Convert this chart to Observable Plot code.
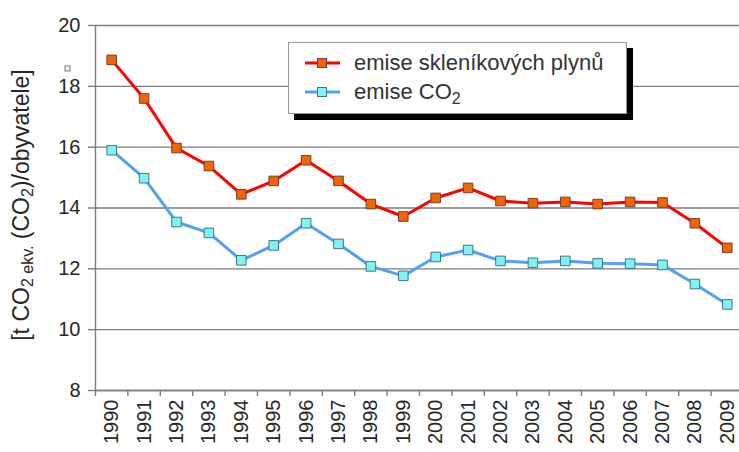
<!DOCTYPE html>
<html><head><meta charset="utf-8">
<script src="https://cdn.jsdelivr.net/npm/d3@7"></script>
<script src="https://cdn.jsdelivr.net/npm/@observablehq/plot@0.6"></script>
<style>
body{margin:0;background:#fff}
#chart{position:relative;width:739px;height:452px;overflow:hidden}
</style>
</head><body><div id="chart"></div>
<script>
const years = [1990,1991,1992,1993,1994,1995,1996,1997,1998,1999,2000,2001,2002,2003,2004,2005,2006,2007,2008,2009];
const ghg = [18.87,17.6,15.97,15.38,14.45,14.89,15.57,14.89,14.13,13.72,14.33,14.66,14.23,14.16,14.2,14.13,14.2,14.18,13.5,12.69];
const co2 = [15.9,14.98,13.54,13.18,12.28,12.77,13.5,12.82,12.08,11.77,12.39,12.62,12.26,12.2,12.26,12.18,12.17,12.13,11.5,10.83];
const yTicks = [8,10,12,14,16,18,20];
const seriesNames = ["emise skleníkových plynů", "emise CO"];

const FONT = "'Liberation Sans', Arial, sans-serif";
const C = {
  ghgLine: "#ff0000", ghgFill: "#f0640a", ghgStroke: "#7a4020",
  co2Line: "#55a0f5", co2Fill: "#80f2f2", co2Stroke: "#3a7a80",
  grid: "#7d7d7d", text: "#262626"
};

const data = years.map((y, i) => ({year: y, ghg: ghg[i], co2: co2[i]}));
const bounds = years.map(y => y - 0.5).concat([years[years.length - 1] + 0.5]);

const chart = Plot.plot({
  width: 739, height: 452,
  marginLeft: 95, marginTop: 25, marginBottom: 62, marginRight: 0,
  style: {fontFamily: FONT, fontSize: "20px", background: "#fff", color: C.text},
  x: {type: "linear", domain: [bounds[0], bounds[bounds.length - 1]], range: [95, 743]},
  y: {domain: [8, 20], range: [390, 25]},
  marks: [
    Plot.gridY(yTicks, {stroke: C.grid, strokeOpacity: 1, strokeWidth: 1.4}),
    Plot.axisY({ticks: yTicks, tickSize: 7, tickPadding: 8, stroke: C.grid, strokeWidth: 1.4, fill: C.text, label: null, fontSize: 20}),
    Plot.axisX({ticks: bounds, tickSize: 6, tickFormat: () => "", stroke: C.grid, strokeWidth: 1.4, label: null}),
    Plot.axisX({ticks: years, tickSize: 0, tickPadding: 9, tickRotate: -90, tickFormat: d => String(d), fill: C.text, label: null, fontSize: 20}),
    Plot.ruleY([8], {stroke: C.grid, strokeWidth: 1.4}),
    Plot.ruleX([bounds[0]], {stroke: C.grid, strokeWidth: 1.4}),
    Plot.line(data, {x: "year", y: "co2", stroke: C.co2Line, strokeWidth: 3}),
    Plot.dot(data, {x: "year", y: "co2", symbol: "square", r: 5.4, fill: C.co2Fill, stroke: C.co2Stroke, strokeWidth: 1}),
    Plot.line(data, {x: "year", y: "ghg", stroke: C.ghgLine, strokeWidth: 3}),
    Plot.dot(data, {x: "year", y: "ghg", symbol: "square", r: 5.4, fill: C.ghgFill, stroke: C.ghgStroke, strokeWidth: 1})
  ]
});
document.getElementById("chart").appendChild(chart);

const svg = d3.select(chart);

// Y axis title with subscripts
const t = svg.append("text")
  .attr("transform", "translate(29,205) rotate(-90)")
  .attr("text-anchor", "middle")
  .attr("font-family", FONT).attr("font-size", 23).attr("fill", C.text);
t.append("tspan").text("[t CO");
t.append("tspan").attr("font-size", 16).attr("dy", 4).text("2 ekv.");
t.append("tspan").attr("dy", -4).text(" (CO");
t.append("tspan").attr("font-size", 16).attr("dy", 4).text("2");
t.append("tspan").attr("dy", -4).text(")/obyvatele]");

// small artifact square
svg.append("rect").attr("x", 65).attr("y", 66).attr("width", 5).attr("height", 5)
  .attr("fill", "#fff").attr("stroke", "#777").attr("stroke-width", 1);

// Legend
const lg = svg.append("g");
lg.append("rect").attr("x", 294).attr("y", 48).attr("width", 339).attr("height", 72).attr("fill", "#000");
lg.append("rect").attr("x", 288.5).attr("y", 42.5).attr("width", 338).attr("height", 71).attr("fill", "#fff").attr("stroke", "#999").attr("stroke-width", 1);
const rows = [
  {name: seriesNames[0], line: C.ghgLine, fill: C.ghgFill, stroke: C.ghgStroke, y: 63, sub: null},
  {name: seriesNames[1], line: C.co2Line, fill: C.co2Fill, stroke: C.co2Stroke, y: 92, sub: "2"}
];
rows.forEach(r => {
  lg.append("line").attr("x1", 305).attr("x2", 340).attr("y1", r.y).attr("y2", r.y)
    .attr("stroke", r.line).attr("stroke-width", 3);
  lg.append("rect").attr("x", 317.5).attr("y", r.y - 4.5).attr("width", 9).attr("height", 9)
    .attr("fill", r.fill).attr("stroke", r.stroke).attr("stroke-width", 1);
  const tx = lg.append("text").attr("x", 354).attr("y", r.y + 7)
    .attr("text-anchor", "start")
    .attr("font-family", FONT).attr("font-size", 22).attr("fill", "#333");
  tx.append("tspan").text(r.name);
  if (r.sub) tx.append("tspan").attr("font-size", 16).attr("dy", 5).text(r.sub);
});
</script>
</body></html>
